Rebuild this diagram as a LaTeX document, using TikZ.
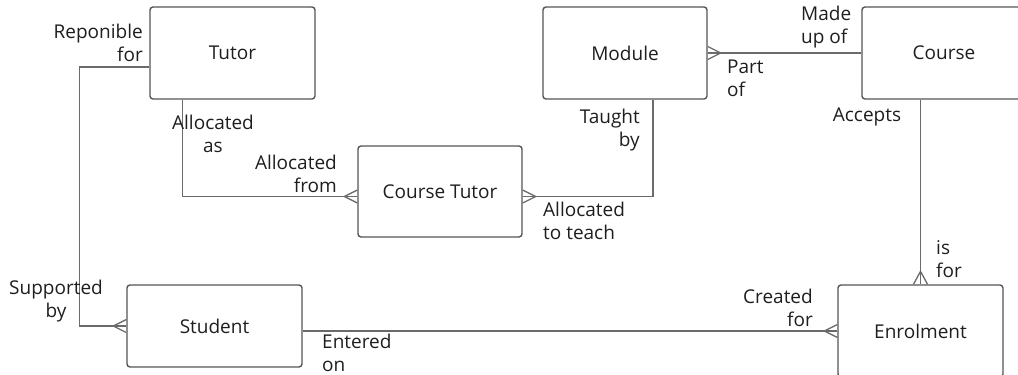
\documentclass[tikz,border=0pt]{standalone}
\usepackage{fontspec}
\setmainfont{Open Sans}
\usetikzlibrary{calc}
\definecolor{boxline}{HTML}{555555}
\definecolor{linkcol}{HTML}{6A6A6A}
\definecolor{ink}{HTML}{1E1E1E}
% crow's foot on a horizontal end: #1 point on the box, #2 signed length outwards
\newcommand\crowh[2]{\draw[link] ($#1+(#2,0)$) -- ($#1+(0,-6.5)$) ($#1+(#2,0)$) -- ($#1+(0,6.5)$);}
% crow's foot on a vertical end
\newcommand\crowv[2]{\draw[link] ($#1+(0,#2)$) -- ($#1+(-7,0)$) ($#1+(0,#2)$) -- ($#1+(7,0)$);}
\begin{document}
\begin{tikzpicture}[x=1pt,y=-1pt,
  entity/.style={draw=boxline, line width=1.4pt, rounded corners=3pt,
    minimum height=92pt, inner sep=0pt, font=\fontsize{19}{23}\selectfont, text=ink},
  link/.style={draw=linkcol, line width=1.3pt, line join=miter},
  role/.style={font=\fontsize{19}{23}\selectfont, text=ink, inner sep=0pt}]
\useasboundingbox (0,0) rectangle (1018,375);
\clip (0,0) rectangle (1018,375);

% entities
\node[entity, minimum width=165pt] (tutor) at (232.5,53) {Tutor};
\node[entity, minimum width=164pt] (module) at (625,53) {Module};
\node[entity, minimum width=164pt] (course) at (944,53) {Course};
\node[entity, minimum width=164pt, minimum height=91pt] (ctutor) at (440,191.5) {Course Tutor};
\node[entity, minimum width=175pt, minimum height=82pt] (student) at (214.5,326) {Student};
\node[entity, minimum width=165pt] (enrol) at (920.5,331) {Enrolment};

% connection points
\coordinate (tutorside) at ($(tutor.west)+(0,14)$);
\coordinate (tutorfoot) at ($(tutor.south)+(-50,0)$);
\coordinate (modfoot) at ($(module.south)+(28,0)$);
\coordinate (ctin) at ($(ctutor.west)+(0,5)$);
\coordinate (ctout) at ($(ctutor.east)+(0,5)$);
\coordinate (courseport) at (enrol.north |- course.south);
\coordinate (studport) at (student.east |- enrol.west);

% relationships
\draw[link] (tutorside) -- ++(-70,0) |- (student.west);
\draw[link] (tutorfoot) |- (ctin);
\draw[link] (modfoot) |- (ctout);
\draw[link] (module.east) -- (course.west);
\draw[link] (courseport) -- (enrol.north);
\draw[link] (studport) -- (enrol.west);

% many ends
\crowh{(student.west)}{-13}
\crowh{(ctin)}{-13}
\crowh{(ctout)}{13}
\crowh{(module.east)}{13}
\crowh{(enrol.west)}{-13}
\crowv{(enrol.north)}{-13}

% role names
\node[role, align=right, anchor=east] (rresp) at (143,43) {Reponible\\for};
\node[role, align=center] (ralloc) at (213,134) {Allocated\\as};
\node[role, align=right, anchor=east] (rfrom) at (337,174) {Allocated\\from};
\node[role, align=right, anchor=east] (rtaught) at (640,130) {Taught\\by};
\node[role, align=left, anchor=west] (rteach) at (543,221) {Allocated\\to teach};
\node[role, align=left, anchor=west] (rpart) at (727,78) {Part\\of};
\node[role, align=left, anchor=west] (rmade) at (801,27) {Made\\up of};
\node[role] (raccept) at (867,117) {Accepts};
\node[role, align=left, anchor=west] (risfor) at (936,259) {is\\for};
\node[role, align=right, anchor=east] (rcreated) at (813,308) {Created\\for};
\node[role, align=center] (rsupp) at (56,301) {Supported\\by};
\node[role, align=left, anchor=west] (renter) at (322,353) {Entered\\on};
\end{tikzpicture}
\end{document}
